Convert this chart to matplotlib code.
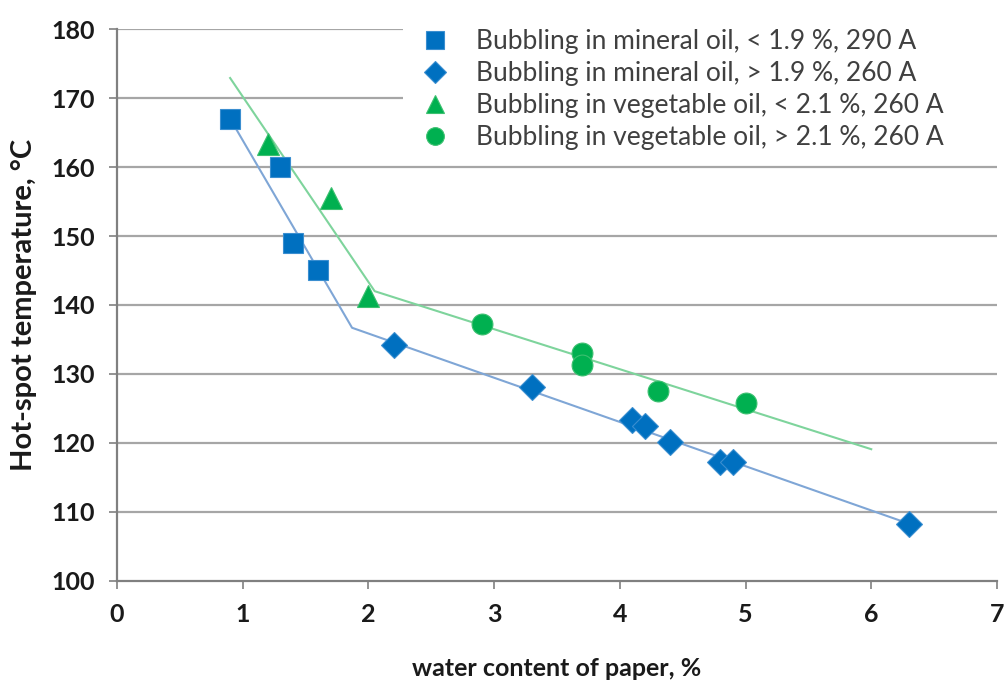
import numpy as np
import matplotlib
matplotlib.use("Agg")
import matplotlib.pyplot as plt

# measured points
min_lo_x = [0.9, 1.3, 1.4, 1.6]
min_lo_y = [167, 160, 149, 145]
min_hi_x = [2.2, 3.3, 4.1, 4.2, 4.4, 4.8, 4.9, 6.3]
min_hi_y = [134.2, 128.1, 123.3, 122.4, 120.1, 117.2, 117.2, 108.3]
veg_lo_x = [1.2, 1.7, 2.0]
veg_lo_y = [163.3, 155.5, 141.3]
veg_hi_x = [2.9, 3.7, 3.7, 4.3, 5.0]
veg_hi_y = [137.3, 133.1, 131.3, 127.6, 125.8]

# trend segments
min_fit_x = [0.9, 1.87, 6.3]
min_fit_y = [167, 136.7, 108.3]
veg_fit_x = [0.9, 2.05, 6.0]
veg_fit_y = [172.9, 142.0, 119.1]

labels = ["Bubbling in mineral oil, < 1.9 %, 290 A",
          "Bubbling in mineral oil, > 1.9 %, 260 A",
          "Bubbling in vegetable oil, < 2.1 %, 260 A",
          "Bubbling in vegetable oil, > 2.1 %, 260 A"]

blue = "#0070C0"
green = "#00B050"
grid_c = "#A6A6A6"
axis_c = "#808080"

plt.rcParams['font.family'] = ['Lato', 'DejaVu Sans']

fig = plt.figure(figsize=(10.05, 6.86), dpi=100)
ax = fig.add_axes([0.1164, 0.1531, 0.8756, 0.8046])

ax.set_xlim(0, 7)
ax.set_ylim(100, 180)
ax.set_xticks(np.arange(0, 8, 1))
ax.set_yticks(np.arange(100, 181, 10))

for yv in range(110, 181, 10):
    ax.axhline(yv, color=grid_c, lw=1.6, zorder=0)

ax.plot(min_fit_x, min_fit_y, color="#7FA6D6", lw=1.5, zorder=2)
ax.plot(veg_fit_x, veg_fit_y, color="#7ED49C", lw=1.5, zorder=2)

ax.plot(min_lo_x, min_lo_y, 's', ms=15, color=blue, mec="#3A8ED0", mew=0.8,
        ls='none', label=labels[0], zorder=3)
ax.plot(min_hi_x, min_hi_y, 'D', ms=13, color=blue, mec="#3A8ED0", mew=0.8,
        ls='none', label=labels[1], zorder=3)
ax.plot(veg_lo_x, veg_lo_y, '^', ms=16, color=green, mec="#3CC070", mew=0.8,
        ls='none', label=labels[2], zorder=3)
ax.plot(veg_hi_x, veg_hi_y, 'o', ms=15, color=green, mec="#3CC070", mew=0.8,
        ls='none', label=labels[3], zorder=3)

for s in ['top', 'right']:
    ax.spines[s].set_visible(False)
for s in ['left', 'bottom']:
    ax.spines[s].set_color(axis_c)
    ax.spines[s].set_linewidth(1.6)

ax.tick_params(axis='both', direction='out', length=6, width=1.2,
               color=axis_c, pad=10, labelsize=18, labelcolor="#1a1a1a")
for t in ax.get_xticklabels() + ax.get_yticklabels():
    t.set_fontweight('bold')

ax.set_xlabel("water content of paper, %", fontsize=18, fontweight='bold',
              color="#1a1a1a", labelpad=22)
ax.set_ylabel("Hot-spot temperature, °C", fontsize=21, fontweight='bold',
              color="#1a1a1a", labelpad=10)

leg = ax.legend(loc='upper left', bbox_to_anchor=(0.325, 1.01, 0.68, 0.0),
                mode='expand', frameon=True,
                fancybox=False, edgecolor='none', facecolor='white', framealpha=1,
                fontsize=19, labelspacing=0.27, handletextpad=0.55,
                handlelength=2.0, borderpad=0.2, borderaxespad=0,
                markerscale=0.85)
for txt in leg.get_texts():
    txt.set_color("#404040")
leg.set_zorder(5)

fig.savefig("out.png", dpi=100)
